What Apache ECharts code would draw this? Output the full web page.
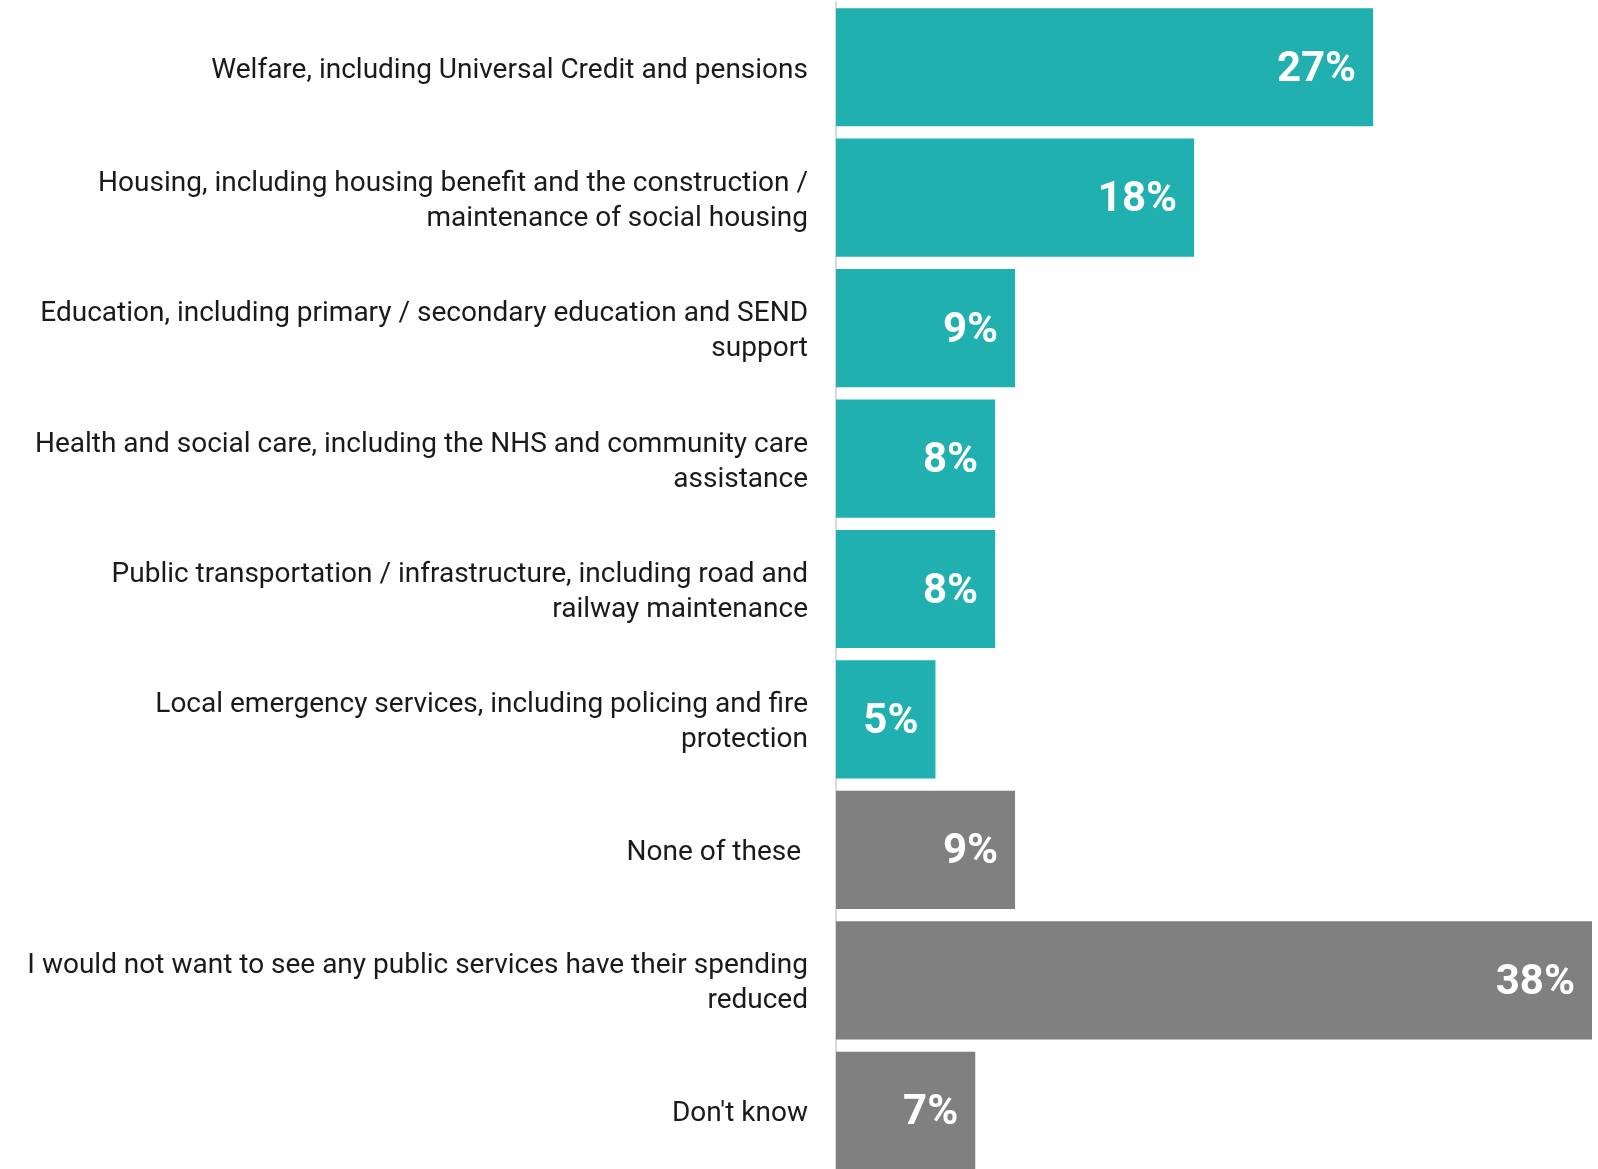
<!DOCTYPE html>
<html>
<head>
<meta charset="utf-8">
<script src="https://cdn.jsdelivr.net/npm/echarts@6/dist/echarts.min.js"></script>
<style>
html,body{margin:0;padding:0;background:#fff;}
#chart{width:1598px;height:1169px;}
</style>
</head>
<body>
<div id="chart"></div>
<script>
const categories = [
  "Welfare, including Universal Credit and pensions",
  "Housing, including housing benefit and the construction /\nmaintenance of social housing",
  "Education, including primary / secondary education and SEND\nsupport",
  "Health and social care, including the NHS and community care\nassistance",
  "Public transportation / infrastructure, including road and\nrailway maintenance",
  "Local emergency services, including policing and fire\nprotection",
  "None of these ",
  "I would not want to see any public services have their spending\nreduced",
  "Don't know"
];
const values = [27, 18, 9, 8, 8, 5, 9, 38, 7];
const groups = ["service","service","service","service","service","service","other","other","other"];
const groupColors = { service: "#20B0AF", other: "#808080" };

const chart = echarts.init(document.getElementById('chart'), null, {renderer: 'canvas'});
chart.setOption({
  animation: false,
  backgroundColor: '#ffffff',
  grid: { left: 836, top: 2, width: 756, height: 1174, containLabel: false, outerBoundsMode: 'none' },
  xAxis: {
    type: 'value', min: 0, max: 38, show: false
  },
  yAxis: {
    type: 'category',
    data: categories,
    inverse: true,
    axisLine: { show: true, lineStyle: { color: '#d9d9d9', width: 2 } },
    axisTick: { show: false },
    axisLabel: {
      margin: 28,
      color: '#1a1a1a',
      fontFamily: 'Roboto',
      fontSize: 28,
      align: 'right',
      formatter: v => v.split('\n').map(s => '{t|' + s + '}').join('\n'),
      rich: {
        t: {
          fontFamily: 'Roboto',
          fontSize: 28,
          color: '#1a1a1a',
          lineHeight: 35,
          padding: [7, 0, 0, 0],
          align: 'right'
        }
      }
    }
  },
  series: [{
    type: 'bar',
    barCategoryGap: '9.4%',
    data: values.map((v, i) => ({ value: v, itemStyle: { color: groupColors[groups[i]] } })),
    label: {
      show: true,
      position: 'insideRight',
      distance: 17,
      offset: [0, 3],
      color: '#ffffff',
      fontFamily: 'Roboto',
      fontWeight: 'bold',
      fontSize: 42,
      formatter: p => p.value + '%'
    }
  }]
});
</script>
</body>
</html>
